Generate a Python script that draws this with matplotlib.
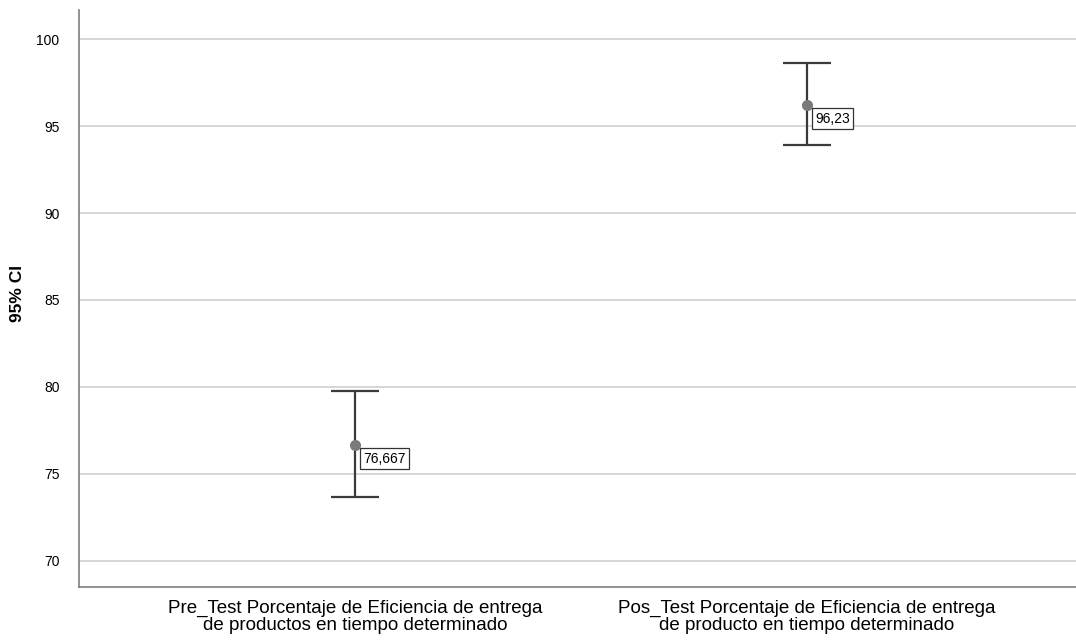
import matplotlib
matplotlib.use("Agg")
import matplotlib.pyplot as plt

plt.rcParams['font.family'] = ['Liberation Sans', 'DejaVu Sans']

categories = [
    "Pre_Test Porcentaje de Eficiencia de entrega\nde productos en tiempo determinado",
    "Pos_Test Porcentaje de Eficiencia de entrega\nde producto en tiempo determinado",
]
means = [76.667, 96.23]
lower = [73.68, 93.91]
upper = [79.77, 98.62]
mean_labels = ["76,667", "96,23"]
yticks = [70, 75, 80, 85, 90, 95, 100]

fig = plt.figure(figsize=(10.76, 6.42), dpi=100)
ax = fig.add_axes([79 / 1076, 1 - 587 / 642, 1 - 79 / 1076, (587 - 10) / 642])

x = list(range(len(categories)))
for xi, m, lo, hi, lab in zip(x, means, lower, upper, mean_labels):
    ax.errorbar([xi], [m], yerr=[[m - lo], [hi - m]], fmt='none',
                ecolor='#3a3a3a', elinewidth=1.6, capsize=17.6, capthick=1.6, zorder=3)
    ax.plot([xi], [m], 'o', color='#7a7a7a', markersize=7, zorder=4)
    ax.annotate(lab, (xi, m), xytext=(8, -7), textcoords='offset pixels',
                ha='left', va='top', fontsize=10, color='black',
                bbox=dict(boxstyle='square,pad=0.25', fc='white', ec='#333333', lw=0.9),
                zorder=5)

ax.set_xlim(-0.6106, 1.595)
ax.set_ylim(68.5, 101.67)
ax.set_yticks(yticks)
ax.set_yticklabels([str(t) for t in yticks], fontsize=10)
ax.set_xticks(x)
ax.set_xticklabels(categories, fontsize=13.5, linespacing=1.02)
ax.tick_params(axis='x', length=0, pad=9)
ax.tick_params(axis='y', length=0, pad=14)
ax.yaxis.grid(True, color='#cfcfcf', linewidth=1.2)
ax.set_axisbelow(True)
fig.text(18 / 1076, 1 - 293 / 642, "95% CI", rotation=90, ha='center', va='center',
         fontsize=12.5, fontweight='bold')
for s in ['top', 'right']:
    ax.spines[s].set_visible(False)
for s in ['left', 'bottom']:
    ax.spines[s].set_color('#7f7f7f')
    ax.spines[s].set_linewidth(1.2)

fig.savefig("out.png", dpi=100)
